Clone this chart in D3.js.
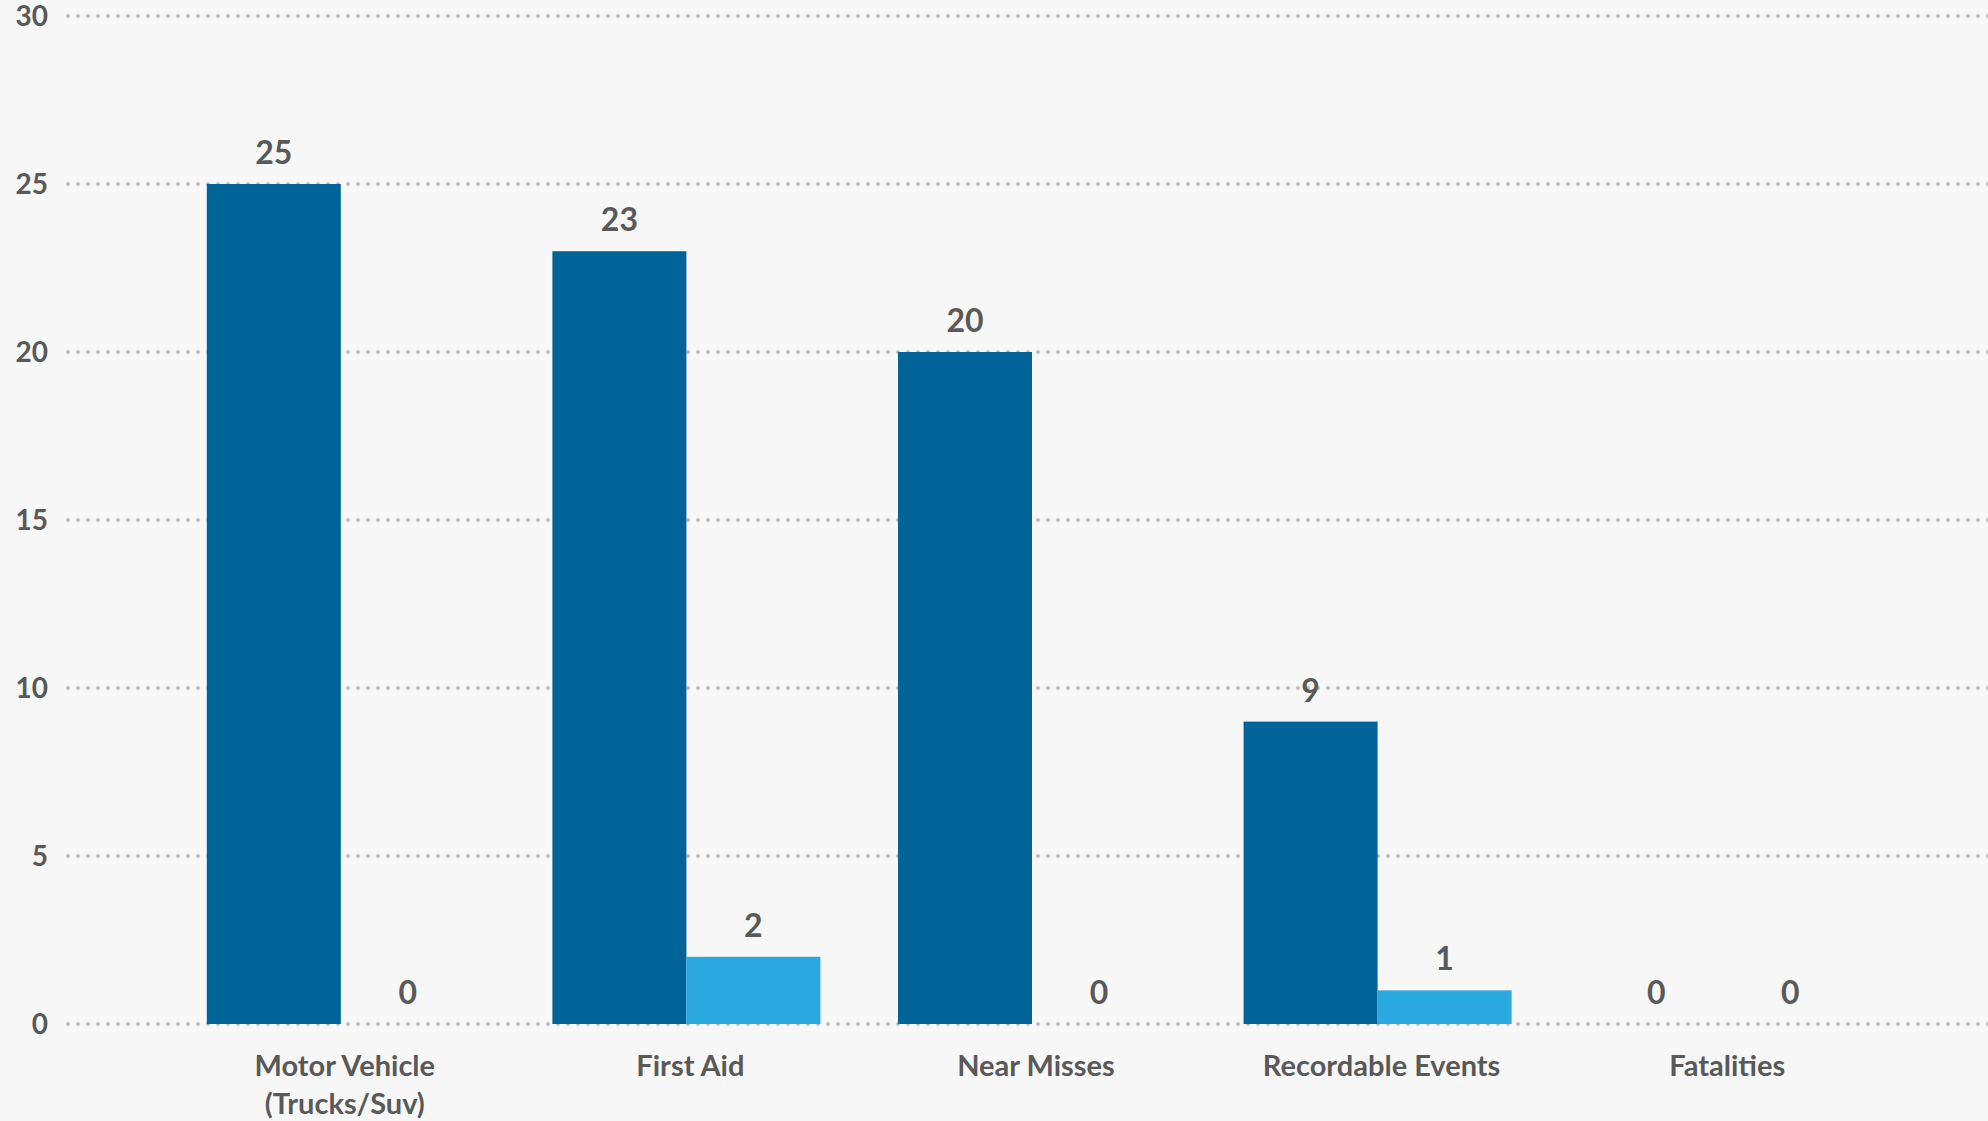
<!DOCTYPE html>
<html>
<head>
<meta charset="utf-8">
<script src="https://cdn.jsdelivr.net/npm/d3@7"></script>
<style>
  html, body { margin: 0; padding: 0; background: #f7f7f7; }
  svg { display: block; font-family: Lato, "Open Sans", sans-serif; }
</style>
</head>
<body>
<svg id="chart" width="1988" height="1121"></svg>
<script>
// Incident categories (second line of a label is split on "\n")
const categories = ["Motor Vehicle\n(Trucks/Suv)", "First Aid", "Near Misses", "Recordable Events", "Fatalities"];
const seriesKeys = ["seriesA", "seriesB"];
const seriesA = [25, 23, 20, 9, 0];
const seriesB = [0, 2, 0, 1, 0];
const yTicks = [0, 5, 10, 15, 20, 25, 30];

const rows = categories.map((c, i) => ({ category: c, seriesA: seriesA[i], seriesB: seriesB[i] }));

const W = 1988, H = 1121;
const colors = { seriesA: "#006499", seriesB: "#29a9e0" };
const textColor = "#595959";

const svg = d3.select("#chart");
svg.append("rect").attr("width", W).attr("height", H).attr("fill", "#f7f7f7");

const x0 = d3.scaleBand().domain(categories).range([34, 2030]).paddingInner(0.2245).paddingOuter(0.5);
const x1 = d3.scaleBand().domain(seriesKeys).range([0, x0.bandwidth()]);
const y = d3.scaleLinear().domain([0, 30]).range([1024, 16]);

// dotted horizontal gridlines
svg.append("g").selectAll("line").data(yTicks).join("line")
  .attr("x1", 68).attr("x2", W + 10)
  .attr("y1", d => y(d)).attr("y2", d => y(d))
  .attr("stroke", "#bcbcbc").attr("stroke-width", 4)
  .attr("stroke-linecap", "round").attr("stroke-dasharray", "0,10");

// y-axis tick labels
svg.append("g").selectAll("text").data(yTicks).join("text")
  .attr("x", 48).attr("y", d => y(d) + 10)
  .attr("text-anchor", "end")
  .attr("font-size", 28).attr("font-weight", 700).attr("fill", textColor)
  .text(d => d);

// grouped bars
const groups = svg.append("g").selectAll("g").data(rows).join("g")
  .attr("transform", d => `translate(${x0(d.category)},0)`);

const cells = groups.selectAll("g").data(d => seriesKeys.map(k => ({ key: k, value: d[k] }))).join("g");

cells.append("rect")
  .attr("x", d => x1(d.key)).attr("width", x1.bandwidth())
  .attr("y", d => y(d.value)).attr("height", d => y(0) - y(d.value))
  .attr("fill", d => colors[d.key]);

cells.append("text")
  .attr("x", d => x1(d.key) + x1.bandwidth() / 2)
  .attr("y", d => y(d.value) - 20)
  .attr("text-anchor", "middle")
  .attr("font-size", 32).attr("font-weight", 700).attr("fill", textColor)
  .text(d => d.value);

// category labels, sitting slightly right of the group centre
const catLabels = svg.append("g").selectAll("text").data(categories).join("text")
  .attr("x", d => x0(d) + x0.bandwidth() / 2 + 4)
  .attr("y", 1076)
  .attr("text-anchor", "middle")
  .attr("font-size", 29).attr("font-weight", 700).attr("fill", textColor);

catLabels.selectAll("tspan").data(d => d.split("\n")).join("tspan")
  .attr("x", function () { return d3.select(this.parentNode).attr("x"); })
  .attr("dy", (d, i) => i === 0 ? 0 : 38)
  .text(d => d);
</script>
</body>
</html>
